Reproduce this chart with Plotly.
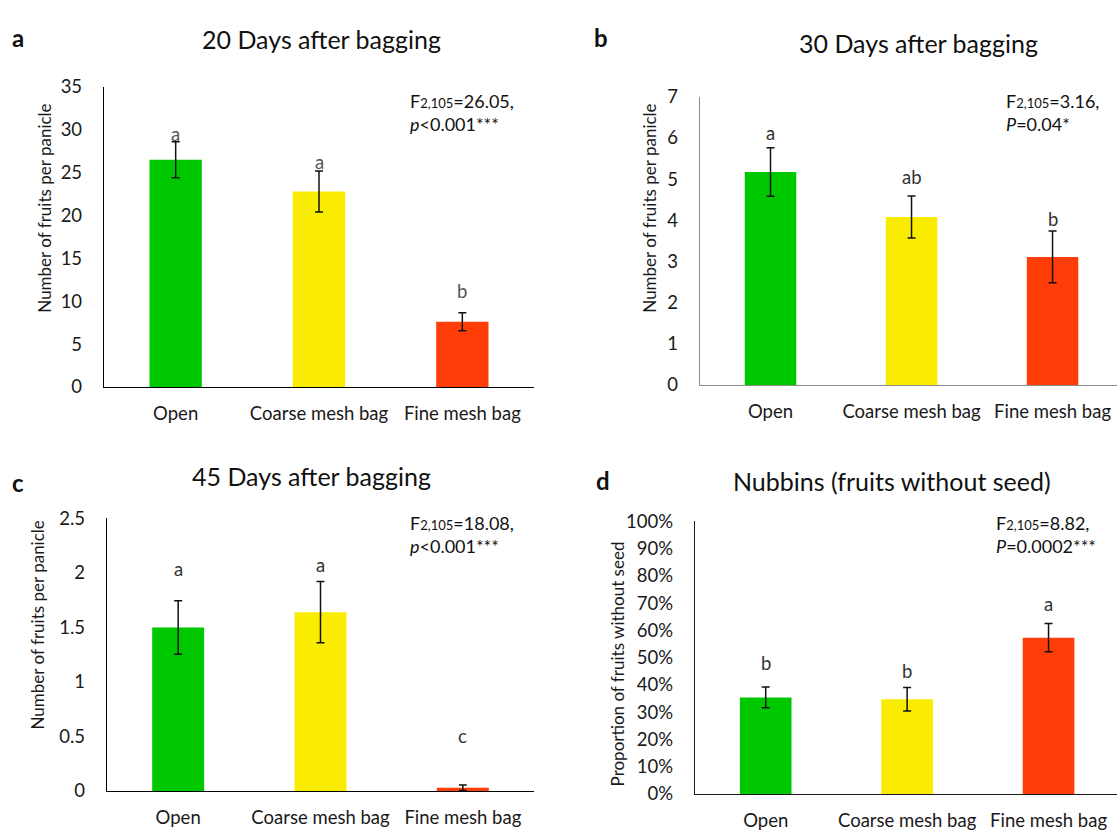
import plotly.graph_objects as go

W, H = 1117, 838

categories = ["Open", "Coarse mesh bag", "Fine mesh bag"]
bar_colors = ["#00C800", "#F9EC00", "#FF3D08"]

# Panel a: 20 days after bagging
d20_mean = [26.5, 22.8, 7.6]
d20_err = [2.1, 2.4, 1.05]
d20_letters = ["a", "a", "b"]
d20_letter_y = [29.5, 26.3, 11.2]

# Panel b: 30 days after bagging
d30_mean = [5.17, 4.08, 3.11]
d30_err = [0.59, 0.51, 0.63]
d30_letters = ["a", "ab", "b"]
d30_letter_y = [6.13, 5.04, 4.04]

# Panel c: 45 days after bagging
d45_mean = [1.50, 1.64, 0.03]
d45_err = [0.245, 0.28, 0.025]
d45_letters = ["a", "a", "c"]
d45_letter_y = [2.04, 2.07, 0.50]

# Panel d: nubbins (proportion)
nub_mean = [0.354, 0.347, 0.573]
nub_err = [0.038, 0.043, 0.052]
nub_letters = ["b", "b", "a"]
nub_letter_y = [0.479, 0.449, 0.696]

FONT = "Lato, 'Open Sans', sans-serif"
SUB = "<span style='font-size:13px'>2,105</span>"


def fx(px):
    return px / W


def fy(py):
    return 1 - py / H


panels = [
    dict(key="", mean=d20_mean, err=d20_err, letters=d20_letters, ly=d20_letter_y,
         xdom=(104, 534), ydom=(77, 385), yrange=[0, 35], dtick=5, xr=[-0.5, 2.5],
         tickfmt="", axcol="#000000", lettercol="#555555",
         title="20 Days after bagging", tpos=(321, 28), tag="a", tagpos=(18, 26),
         ytitle="Number of fruits per panicle", ytpos=(45, 202),
         stat="F" + SUB + "=26.05,<br><i>p</i><0.001***", spos=(408, 78)),
    dict(key="2", mean=d30_mean, err=d30_err, letters=d30_letters, ly=d30_letter_y,
         xdom=(700, 1117), ydom=(87, 383), yrange=[0, 7], dtick=1, xr=[-0.5, 2.457],
         tickfmt="", axcol="#8c8c8c", lettercol="#333333",
         title="30 Days after bagging", tpos=(918, 32), tag="b", tagpos=(601, 26),
         ytitle="Number of fruits per panicle", ytpos=(650, 202),
         stat="F" + SUB + "=3.16,<br><i>P</i>=0.04*", spos=(1004, 78)),
    dict(key="3", mean=d45_mean, err=d45_err, letters=d45_letters, ly=d45_letter_y,
         xdom=(107, 534), ydom=(520, 800), yrange=[0, 2.5], dtick=0.5, xr=[-0.5, 2.5],
         tickfmt="", axcol="#000000", lettercol="#333333",
         title="45 Days after bagging", tpos=(311, 477), tag="c", tagpos=(18, 483),
         ytitle="Number of fruits per panicle", ytpos=(37, 630),
         stat="F" + SUB + "=18.08,<br><i>p</i><0.001***", spos=(408, 511)),
    dict(key="4", mean=nub_mean, err=nub_err, letters=nub_letters, ly=nub_letter_y,
         xdom=(695, 1117), ydom=(523, 803), yrange=[0, 1], dtick=0.1, xr=[-0.5, 2.484],
         tickfmt=".0%", axcol="#1a1a1a", lettercol="#333333",
         title="Nubbins (fruits without seed)", tpos=(892, 482), tag="d", tagpos=(603, 481),
         ytitle="Proportion of fruits without seed", ytpos=(617, 670),
         stat="F" + SUB + "=8.82,<br><i>P</i>=0.0002***", spos=(994, 511)),
]

fig = go.Figure()
annotations = []
layout = {}

for p in panels:
    k = p["key"]
    xa, ya = "x" + k, "y" + k
    fig.add_trace(go.Bar(
        x=categories, y=p["mean"], xaxis=xa, yaxis=ya,
        marker=dict(color=bar_colors, line=dict(width=0)),
        width=0.365,
        error_y=dict(type="data", array=p["err"], visible=True,
                     color="#111111", thickness=1.5, width=4),
        showlegend=False, hoverinfo="skip",
    ))
    layout["xaxis" + k] = dict(
        domain=[fx(p["xdom"][0]), fx(p["xdom"][1])], anchor=ya,
        type="category", range=p["xr"], showline=True, linecolor=p["axcol"],
        linewidth=1.4, showgrid=False, zeroline=False, ticks="",
        ticklabelstandoff=10, tickfont=dict(family=FONT, size=18.5, color="#1a1a1a"),
        fixedrange=True,
    )
    layout["yaxis" + k] = dict(
        domain=[fy(p["ydom"][1]), fy(p["ydom"][0])], anchor=xa,
        range=p["yrange"], dtick=p["dtick"], tick0=0, tickformat=p["tickfmt"],
        showline=True, linecolor=p["axcol"], linewidth=1.4, showgrid=False,
        zeroline=False, ticks="", ticklabelstandoff=17,
        tickfont=dict(family=FONT, size=18.5, color="#1a1a1a"), fixedrange=True,
    )
    # significance letters
    for cat, lt, yv in zip(categories, p["letters"], p["ly"]):
        annotations.append(dict(
            x=cat, y=yv, xref=xa, yref=ya, text=lt, showarrow=False,
            xanchor="center", yanchor="middle",
            font=dict(family=FONT, size=18.5, color=p["lettercol"]),
        ))
    # title
    annotations.append(dict(
        x=fx(p["tpos"][0]), y=fy(p["tpos"][1]), xref="paper", yref="paper",
        text=p["title"], showarrow=False, xanchor="center", yanchor="middle",
        font=dict(family=FONT, size=25, color="#111111"),
    ))
    # panel tag
    annotations.append(dict(
        x=fx(p["tagpos"][0]), y=fy(p["tagpos"][1]), xref="paper", yref="paper",
        text="<b>" + p["tag"] + "</b>", showarrow=False, xanchor="center",
        yanchor="middle", font=dict(family=FONT, size=24, color="#111111"),
    ))
    # y axis title
    annotations.append(dict(
        x=fx(p["ytpos"][0]), y=fy(p["ytpos"][1]), xref="paper", yref="paper",
        text=p["ytitle"], showarrow=False, textangle=-90, xanchor="center",
        yanchor="middle", font=dict(family=FONT, size=17, color="#1a1a1a"),
    ))
    # statistics
    annotations.append(dict(
        x=fx(p["spos"][0]), y=fy(p["spos"][1]), xref="paper", yref="paper",
        text=p["stat"], showarrow=False, xanchor="left", yanchor="top",
        align="left", font=dict(family=FONT, size=18, color="#111111"),
    ))

fig.update_layout(
    width=W, height=H, margin=dict(l=0, r=0, t=0, b=0),
    paper_bgcolor="white", plot_bgcolor="white",
    annotations=annotations, font=dict(family=FONT), **layout,
)

fig.write_html("out.html", include_plotlyjs=True, config={"displayModeBar": False})
